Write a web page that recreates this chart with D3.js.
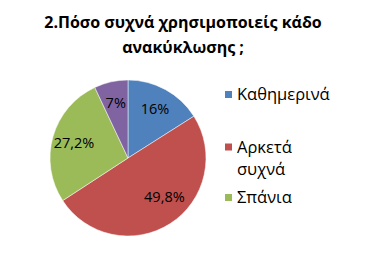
<!DOCTYPE html>
<html>
<head>
<meta charset="utf-8">
<script src="https://cdn.jsdelivr.net/npm/d3@7"></script>
<style>
  body { margin: 0; background: #fff; }
  text { font-family: "Open Sans", "Noto Sans", sans-serif; }
</style>
</head>
<body>
<div id="chart"></div>
<script>
var titleLines = ["2.Πόσο συχνά χρησιμοποιείς κάδο", "ανακύκλωσης ;"];
var categories = ["Καθημερινά", "Αρκετά συχνά", "Σπάνια", ""];
var values = [16, 49.8, 27.2, 7];
var labels = ["16%", "49,8%", "27,2%", "7%"];
var colors = ["#4F81BD", "#C0504D", "#9BBB59", "#8064A2"];
var legendLines = [["Καθημερινά"], ["Αρκετά", "συχνά"], ["Σπάνια"]];

var width = 367,
  height = 275;

var svg = d3
  .select("#chart")
  .append("svg")
  .attr("width", width)
  .attr("height", height);

svg
  .append("g")
  .selectAll("text")
  .data(titleLines)
  .enter()
  .append("text")
  .attr("x", 183)
  .attr("y", function(d, i) {
    return 28 + i * 25;
  })
  .attr("text-anchor", "middle")
  .style("font-size", "16px")
  .style("font-weight", "bold")
  .style("fill", "#000")
  .text(function(d) {
    return d;
  });

var cx = 128,
  cy = 158,
  r = 78;

var pie = d3
  .pie()
  .sort(null)
  .value(function(d) {
    return d;
  });

var arc = d3.arc().innerRadius(0).outerRadius(r);
var labelArc = d3.arc().innerRadius(r * 0.72).outerRadius(r * 0.72);

var g = svg.append("g").attr("transform", "translate(" + cx + "," + cy + ")");

var slices = pie(values);

g.selectAll("path")
  .data(slices)
  .enter()
  .append("path")
  .attr("d", arc)
  .style("fill", function(d, i) {
    return colors[i];
  })
  .style("stroke", "#fff")
  .style("stroke-width", 0.5);

g.selectAll("text")
  .data(slices)
  .enter()
  .append("text")
  .attr("transform", function(d) {
    var c = labelArc.centroid(d);
    // excel "best fit" nudges the big slice label a little up and right
    if (d.value > 40) c = [c[0] + 6, c[1] - 8];
    return "translate(" + c[0] + "," + c[1] + ")";
  })
  .attr("text-anchor", "middle")
  .attr("dy", "0.35em")
  .style("font-size", "14.5px")
  .style("fill", "#000")
  .text(function(d, i) {
    return labels[i];
  });

// legend rows (first-line y of each entry)
var legendY = [94.5, 147, 197.5];

var legend = svg
  .append("g")
  .selectAll("g")
  .data(legendLines)
  .enter()
  .append("g")
  .attr("transform", function(d, i) {
    return "translate(225," + legendY[i] + ")";
  });

legend
  .append("rect")
  .attr("x", 0)
  .attr("y", -3.5)
  .attr("width", 7)
  .attr("height", 7)
  .style("fill", function(d, i) {
    return colors[i];
  });

legend
  .selectAll("text")
  .data(function(d) {
    return d;
  })
  .enter()
  .append("text")
  .attr("x", 12)
  .attr("y", function(d, i) {
    return i * 22;
  })
  .attr("dy", "0.35em")
  .style("font-size", "16.5px")
  .style("fill", "#000")
  .text(function(d) {
    return d;
  });
</script>
</body>
</html>
